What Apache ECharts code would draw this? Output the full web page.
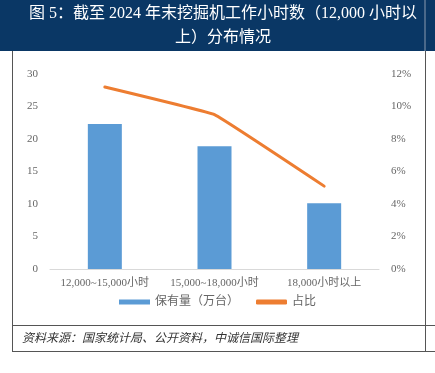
<!DOCTYPE html>
<html><head><meta charset="utf-8">
<script src="https://cdn.jsdelivr.net/npm/echarts@6/dist/echarts.min.js"></script>
<style>html,body{margin:0;padding:0;background:#fff}#c{width:435px;height:373px}</style>
</head><body><div id="c"></div>
<script>
const categories = ['12,000~15,000小时', '15,000~18,000小时', '18,000小时以上'];
const holdings = [22.3, 18.9, 10.1];
const shares = [0.112, 0.095, 0.051];
const leftTicks = {min: 0, max: 30, interval: 5};
const rightTicks = {min: 0, max: 0.12, interval: 0.02};
const titleLines = ['图 5：截至 2024 年末挖掘机工作小时数（12,000 小时以', '上）分布情况'];
const sourceText = '资料来源：国家统计局、公开资料，中诚信国际整理';

const chart = echarts.init(document.getElementById('c'), null, {renderer: 'canvas'});
const serif = '"Liberation Serif","Noto Sans CJK SC",serif';
const gray = '#666';
chart.setOption({
  animation: false,
  grid: {left: 50, right: 56, top: 74, bottom: 104},
  legend: {
    bottom: 60, left: 'center', itemGap: 17, itemWidth: 31, itemHeight: 5,
    textStyle: {color: gray, fontSize: 12, fontFamily: serif},
    data: [{name: '保有量（万台）', icon: 'rect'}, {name: '占比', icon: 'roundRect'}]
  },
  xAxis: {
    type: 'category', data: categories,
    axisLine: {lineStyle: {color: '#D9D9D9'}}, axisTick: {show: false},
    axisLabel: {color: gray, fontSize: 11, fontFamily: serif, margin: 9, interval: 0}
  },
  yAxis: [
    {type: 'value', min: leftTicks.min, max: leftTicks.max, interval: leftTicks.interval,
     splitLine: {show: false}, axisLine: {show: false}, axisTick: {show: false},
     axisLabel: {color: gray, fontSize: 11, fontFamily: serif, margin: 12}},
    {type: 'value', min: rightTicks.min, max: rightTicks.max, interval: rightTicks.interval,
     splitLine: {show: false}, axisLine: {show: false}, axisTick: {show: false},
     axisLabel: {color: gray, fontSize: 11, fontFamily: serif, margin: 12,
       formatter: v => Math.round(v * 100) + '%'}}
  ],
  series: [
    {name: '保有量（万台）', type: 'bar', data: holdings, barWidth: 34,
     itemStyle: {color: '#5B9BD5'}},
    {name: '占比', type: 'line', yAxisIndex: 1, data: shares, smooth: 0.06,
     showSymbol: false, symbol: 'none',
     lineStyle: {color: '#ED7D31', width: 3, cap: 'round'}, itemStyle: {color: '#ED7D31'}}
  ],
  graphic: [
    {type: 'rect', shape: {x: 0, y: 0, width: 435, height: 51}, style: {fill: '#0A3765'}, z: -1},
    {type: 'line', shape: {x1: 425, y1: 0, x2: 425, y2: 51}, style: {stroke: '#8a9bb0', lineWidth: 1}},
    {type: 'text', x: 223, y: 14, style: {text: titleLines[0], fill: '#fff', font: '16px ' + serif, textAlign: 'center', textVerticalAlign: 'middle'}},
    {type: 'text', x: 223, y: 38, style: {text: titleLines[1], fill: '#fff', font: '16px ' + serif, textAlign: 'center', textVerticalAlign: 'middle'}},
    {type: 'line', shape: {x1: 12.5, y1: 51, x2: 12.5, y2: 351}, style: {stroke: '#555', lineWidth: 1}},
    {type: 'line', shape: {x1: 425.5, y1: 51, x2: 425.5, y2: 351}, style: {stroke: '#555', lineWidth: 1}},
    {type: 'line', shape: {x1: 12, y1: 325.5, x2: 435, y2: 325.5}, style: {stroke: '#555', lineWidth: 1}},
    {type: 'line', shape: {x1: 12, y1: 351.5, x2: 435, y2: 351.5}, style: {stroke: '#555', lineWidth: 1}},
    {type: 'text', x: 22, y: 339, style: {text: sourceText, fill: '#333', font: 'italic 12px ' + serif, textVerticalAlign: 'middle'}}
  ]
});
</script></body></html>
